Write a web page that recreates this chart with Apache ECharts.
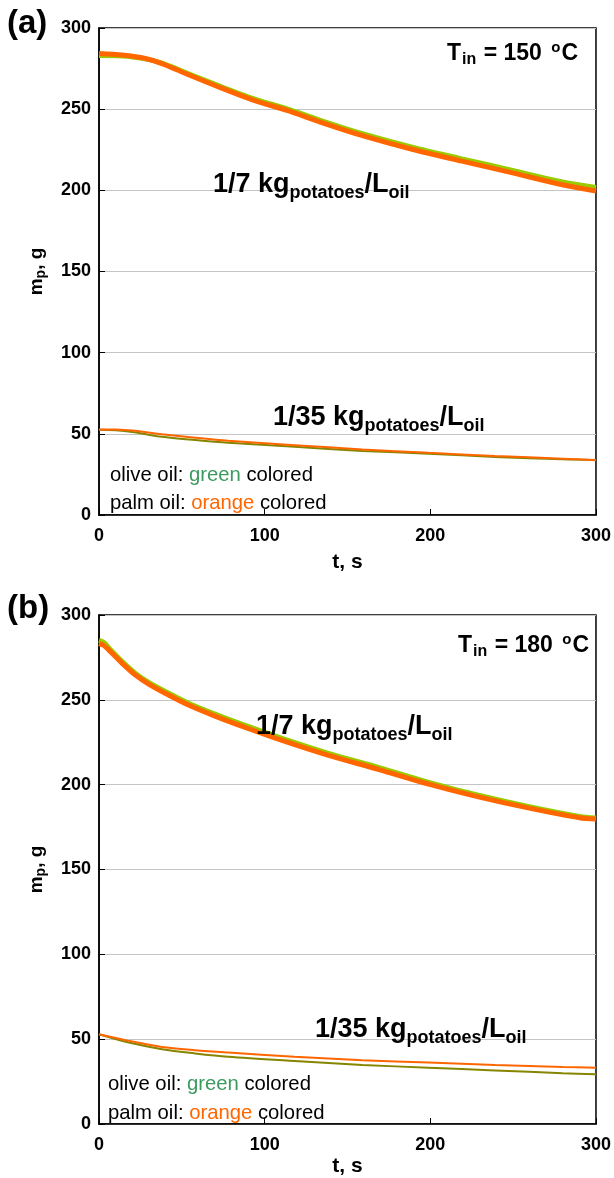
<!DOCTYPE html>
<html>
<head>
<meta charset="utf-8">
<script src="https://cdn.jsdelivr.net/npm/echarts@6/dist/echarts.min.js"></script>
<style>
html,body{margin:0;padding:0;background:#fff;}
#chart{width:614px;height:1178px;}
</style>
</head>
<body>
<div id="chart"></div>
<script>
// ---------- DATA ----------
// Panel (a): T_in = 150 °C
const a_t_high = [0, 14, 28, 38, 54, 74, 94, 114, 134, 159, 189, 219, 249, 279, 300];
const a_olive_high = [283.0, 282.8, 281.0, 278.3, 271.8, 263.8, 256.2, 250.1, 243.0, 234.9, 226.6, 219.4, 212.4, 205.3, 201.8];
const a_palm_high  = [284.3, 283.3, 281.2, 278.1, 271.2, 263.0, 255.3, 249.1, 241.9, 233.7, 225.3, 218.0, 210.9, 203.6, 199.6];

const a_t_low = [0, 10, 20, 38, 58, 78, 118, 159, 199, 239, 280, 300];
const a_olive_low = [52.5, 52.2, 51.2, 48.2, 46.2, 44.5, 42.0, 39.5, 37.8, 35.8, 34.3, 33.9];
const a_palm_low  = [52.7, 52.6, 52.0, 49.8, 47.6, 45.7, 43.0, 40.4, 38.3, 36.4, 34.7, 33.7];

// Panel (b): T_in = 180 °C
const b_t_high = [0, 3, 6, 14, 22, 30, 42, 54, 70, 90, 110, 138, 169, 199, 229, 259, 290, 300];
const b_olive_high = [285.0, 283.8, 280.5, 272.5, 265.6, 260.3, 253.9, 248.0, 241.6, 234.3, 227.4, 218.6, 210.1, 201.4, 193.8, 187.2, 181.3, 180.3];
const b_palm_high  = [283.2, 282.0, 279.3, 271.5, 264.6, 259.3, 252.8, 246.9, 240.4, 233.1, 226.2, 217.4, 208.9, 200.3, 192.8, 186.3, 180.5, 179.8];

const b_t_low = [0, 18, 38, 58, 78, 118, 159, 199, 239, 280, 300];
const b_olive_low = [52.9, 48.0, 44.1, 41.6, 39.6, 37.1, 34.8, 33.2, 31.6, 29.9, 29.3];
const b_palm_low  = [52.9, 49.0, 45.4, 43.5, 42.1, 39.6, 37.6, 36.2, 34.8, 33.6, 33.2];

const xTicks = {min: 0, max: 300, interval: 100};
const yTicks = {min: 0, max: 300, interval: 50};
const panelLabels = ['(a)', '(b)'];
const tempLabels = ['150', '180'];
const ratioHigh = ['1/7 kg', 'potatoes', '/L', 'oil'];
const ratioLow = ['1/35 kg', 'potatoes', '/L', 'oil'];
const legendLines = [['olive oil: ', 'green', ' colored'], ['palm oil: ', 'orange', ' colored']];

// ---------- STYLE ----------
const FONT = 'Liberation Sans';
const C_ORANGE = '#ff6600';
const C_GREEN_HI = '#99cc00';
const C_GREEN_LO = '#858500';
const C_GREEN_TXT = '#3c9a60';

function zip(t, v) { return t.map((x, i) => [x, v[i]]); }

const grids = [
  {left: 99, top: 28, width: 500, height: 487},
  {left: 99, top: 615, width: 500, height: 512}
];

function xAxisFor(i, gap) {
  return {
    type: 'value', gridIndex: i, min: xTicks.min, max: xTicks.max, interval: xTicks.interval,
    name: 't, s', nameLocation: 'middle', nameGap: gap,
    nameTextStyle: {fontFamily: FONT, fontWeight: 'bold', fontSize: 21, color: '#000'},
    axisLine: {show: true, onZero: false, lineStyle: {color: '#000', width: 1.5}},
    axisTick: {show: true, inside: true, length: 6, lineStyle: {color: '#000', width: 1}},
    axisLabel: {fontFamily: FONT, fontWeight: 'bold', fontSize: 18, color: '#000', margin: 12},
    splitLine: {show: false}
  };
}
function yAxisFor(i) {
  return {
    type: 'value', gridIndex: i, min: yTicks.min, max: yTicks.max, interval: yTicks.interval,
    name: '{m|m}{s|p}{m|, g}', nameLocation: 'middle', nameGap: 51, nameRotate: 90,
    nameTextStyle: {
      color: '#000',
      rich: {
        m: {fontFamily: FONT, fontWeight: 'bold', fontSize: 19, color: '#000'},
        s: {fontFamily: FONT, fontWeight: 'bold', fontSize: 14, color: '#000', padding: [8, 0, 0, 0]}
      }
    },
    axisLine: {show: true, onZero: false, lineStyle: {color: '#000', width: 1.5}},
    axisTick: {show: true, inside: true, length: 6, lineStyle: {color: '#000', width: 1}},
    axisLabel: {fontFamily: FONT, fontWeight: 'bold', fontSize: 18, color: '#000', margin: 8},
    splitLine: {show: true, lineStyle: {color: '#c4c4c4', width: 1}}
  };
}

function line(i, t, v, color, w) {
  return {
    type: 'line', xAxisIndex: i, yAxisIndex: i, data: zip(t, v),
    showSymbol: false, symbol: 'none', smooth: 0.3,
    lineStyle: {color: color, width: w}, itemStyle: {color: color},
    animation: false
  };
}

const series = [
  line(0, a_t_high, a_olive_high, C_GREEN_HI, 5),
  line(0, a_t_high, a_palm_high, C_ORANGE, 5),
  line(0, a_t_low, a_olive_low, C_GREEN_LO, 2),
  line(0, a_t_low, a_palm_low, C_ORANGE, 2),
  line(1, b_t_high, b_olive_high, C_GREEN_HI, 5),
  line(1, b_t_high, b_palm_high, C_ORANGE, 5),
  line(1, b_t_low, b_olive_low, C_GREEN_LO, 2),
  line(1, b_t_low, b_palm_low, C_ORANGE, 2)
];

function txt(x, y, text, rich, align) {
  return {
    type: 'text', x: x, y: y, z: 100,
    style: {text: text, rich: rich, textAlign: align || 'left', textVerticalAlign: 'middle', font: 'bold 20px "' + FONT + '"', fill: '#000'}
  };
}

const richTemp = {
  m: {fontFamily: FONT, fontWeight: 'bold', fontSize: 23, fill: '#000'},
  s: {fontFamily: FONT, fontWeight: 'bold', fontSize: 16, fill: '#000', padding: [12, 1, 0, 1]},
  o: {fontFamily: FONT, fontWeight: 'bold', fontSize: 15, fill: '#000', padding: [0, 1, 13, 3]}
};
const richRatio = {
  m: {fontFamily: FONT, fontWeight: 'bold', fontSize: 27, fill: '#000'},
  s: {fontFamily: FONT, fontWeight: 'bold', fontSize: 18, fill: '#000', padding: [16, 0, 0, 0]}
};
const richLeg = {
  k: {fontFamily: FONT, fontSize: 20.3, fill: '#000'},
  g: {fontFamily: FONT, fontSize: 20.3, fill: C_GREEN_TXT},
  o: {fontFamily: FONT, fontSize: 20.3, fill: C_ORANGE}
};
const richPanel = {p: {fontFamily: FONT, fontWeight: 'bold', fontSize: 33, fill: '#000'}};

function tempText(v) { return '{m|T}{s|in}{m| = ' + v + ' }{o|o}{m|C}'; }
function ratioText(r) { return '{m|' + r[0] + '}{s|' + r[1] + '}{m|' + r[2] + '}{s|' + r[3] + '}'; }
function legText(l, key) { return '{k|' + l[0] + '}{' + key + '|' + l[1] + '}{k|' + l[2] + '}'; }

const graphics = [
  txt(7, 24, '{p|' + panelLabels[0] + '}', richPanel),
  txt(7, 609, '{p|' + panelLabels[1] + '}', richPanel),
  txt(578, 54, tempText(tempLabels[0]), richTemp, 'right'),
  txt(589, 646, tempText(tempLabels[1]), richTemp, 'right'),
  txt(213, 185, ratioText(ratioHigh), richRatio),
  txt(256, 727, ratioText(ratioHigh), richRatio),
  txt(273, 418, ratioText(ratioLow), richRatio),
  txt(315, 1030, ratioText(ratioLow), richRatio),
  txt(110, 475, legText(legendLines[0], 'g'), richLeg),
  txt(110, 503, legText(legendLines[1], 'o'), richLeg),
  txt(108, 1084, legText(legendLines[0], 'g'), richLeg),
  txt(108, 1113, legText(legendLines[1], 'o'), richLeg)
];

const chart = echarts.init(document.getElementById('chart'), null, {renderer: 'canvas'});
chart.setOption({
  animation: false,
  backgroundColor: '#fff',
  grid: grids.map(g => Object.assign({show: true, borderColor: '#000', borderWidth: 1.5, backgroundColor: 'transparent'}, g)),
  xAxis: [xAxisFor(0, 37), xAxisFor(1, 32)],
  yAxis: [yAxisFor(0), yAxisFor(1)],
  series: series,
  graphic: graphics
});
</script>
</body>
</html>
